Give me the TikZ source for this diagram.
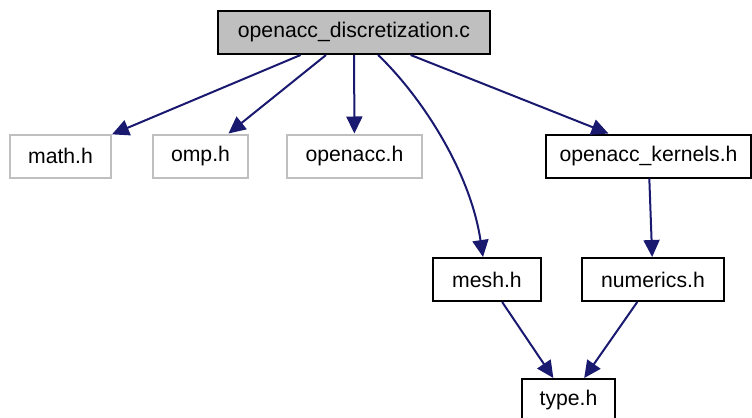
\documentclass[tikz,border=0pt]{standalone}
\usepackage{fontspec}
\setmainfont{Liberation Sans}
\usetikzlibrary{arrows.meta}
\definecolor{edgeblue}{RGB}{25,25,112}
\definecolor{extgray}{RGB}{191,191,191}
\tikzset{
  hdrnode/.style ={rectangle, draw=black, fill=white, line width=1pt, inner sep=0pt,
                minimum height=21.5pt, font=\fontsize{10.6}{12}\selectfont},
  sysnode/.style ={hdrnode, draw=extgray},
  rootnode/.style ={hdrnode, fill=extgray},
  incl/.style ={-{Triangle[length=8.5pt,width=8pt]}, line width=1pt, draw=edgeblue},
}
\begin{document}
\begin{tikzpicture}[x=0.5pt, y=-0.5pt]
\useasboundingbox (0,0) rectangle (752,418);
\node[rootnode, minimum width=136pt] (root) at (354,32.5) {openacc\_discretization.c};
\node[sysnode, minimum width=50.5pt] (math) at (60.5,156) {math.h};
\node[sysnode, minimum width=47.5pt] (omp) at (200.5,156) {omp.h};
\node[sysnode, minimum width=67.5pt] (openacc) at (354.5,156) {openacc.h};
\node[hdrnode, minimum width=102.5pt] (kernels) at (648.5,156) {openacc\_kernels.h};
\node[hdrnode, minimum width=54pt] (mesh) at (487,279.5) {mesh.h};
\node[hdrnode, minimum width=71pt] (numerics) at (653,279.5) {numerics.h};
\node[hdrnode, minimum width=46.5pt] (type) at (568.5,400.5) {type.h};
\foreach \x/\y in {root/math,root/omp,root/openacc,kernels/numerics,mesh/type,numerics/type} \draw[incl] (\x) -- (\y);
\draw[incl] (root) -- ([xshift=-20pt]kernels.north);
\draw[incl] (root.-43) .. controls (420,95) and (470,170) .. ([xshift=-2pt]mesh.north);
\end{tikzpicture}
\end{document}
